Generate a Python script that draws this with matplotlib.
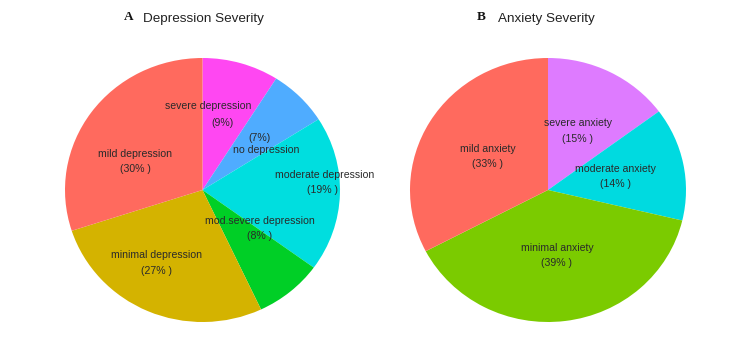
import matplotlib
matplotlib.use("Agg")
import matplotlib.pyplot as plt

plt.rcParams['font.family'] = ['Liberation Sans', 'DejaVu Sans']

# ---- data ----
dep_categories = ["severe depression", "no depression", "moderate depression",
                  "mod.severe depression", "minimal depression", "mild depression"]
dep_values = [9, 7, 19, 8, 27, 30]
dep_pct_labels = ["(9%)", "(7%)", "(19% )", "(8% )", "(27% )", "(30% )"]
dep_colors = ["#FF47F2", "#4FACFF", "#00DEDF", "#00CF26", "#D4B300", "#FF6A5E"]

anx_categories = ["severe anxiety", "moderate anxiety", "minimal anxiety", "mild anxiety"]
anx_values = [15, 14, 39, 33]
anx_pct_labels = ["(15% )", "(14% )", "(39% )", "(33% )"]
anx_colors = ["#DE7BFF", "#00DAE0", "#7BCB00", "#FF6A5E"]

# label positions (axes data units, pie radius = 1): (name_xy, pct_xy)
dep_label_pos = [((0.04, 0.636), (0.142, 0.508)),
                 ((0.462, 0.303), (0.411, 0.394)),
                 ((0.891, 0.114), (0.876, 0.0)),
                 ((0.418, -0.235), (0.418, -0.348)),
                 ((-0.331, -0.492), (-0.331, -0.614)),
                 ((-0.491, 0.273), (-0.491, 0.159))]
anx_label_pos = [((0.217, 0.508), (0.217, 0.386)),
                 ((0.486, 0.159), (0.486, 0.045)),
                 ((0.065, -0.439), (0.065, -0.553)),
                 ((-0.435, 0.311), (-0.435, 0.197))]

W, H = 750, 361
fig = plt.figure(figsize=(W / 100, H / 100), dpi=100)
fig.patch.set_facecolor("white")

def draw(ax, values, colors, cats, pcts, pos):
    ax.pie(values, colors=colors, startangle=90, counterclock=False,
           wedgeprops=dict(linewidth=0), radius=1)
    ax.set_aspect('auto')
    ax.set_xlim(-1, 1)
    ax.set_ylim(-1, 1)
    ax.axis('off')
    for c, p, (nxy, pxy) in zip(cats, pcts, pos):
        ax.text(nxy[0], nxy[1], c, ha='center', va='center', fontsize=7.6, color='#2a2a2a')
        ax.text(pxy[0], pxy[1], p, ha='center', va='center', fontsize=7.6, color='#2a2a2a')

ax1 = fig.add_axes([65 / W, 39 / H, 275 / W, 264 / H])
draw(ax1, dep_values, dep_colors, dep_categories, dep_pct_labels, dep_label_pos)
ax2 = fig.add_axes([410 / W, 39 / H, 276 / W, 264 / H])
draw(ax2, anx_values, anx_colors, anx_categories, anx_pct_labels, anx_label_pos)

fig.text(129 / W, 1 - 17 / H, "A", ha='center', va='center', fontsize=9.5,
         fontweight='bold', family=['Liberation Serif', 'DejaVu Serif'], color='#111111')
fig.text(143 / W, 1 - 19 / H, "Depression Severity", ha='left', va='center',
         fontsize=9.7, color='#222222')
fig.text(481 / W, 1 - 17 / H, "B", ha='center', va='center', fontsize=9.5,
         fontweight='bold', family=['Liberation Serif', 'DejaVu Serif'], color='#111111')
fig.text(498 / W, 1 - 19 / H, "Anxiety Severity", ha='left', va='center',
         fontsize=9.7, color='#222222')

fig.savefig("out.png", dpi=100, facecolor="white")
